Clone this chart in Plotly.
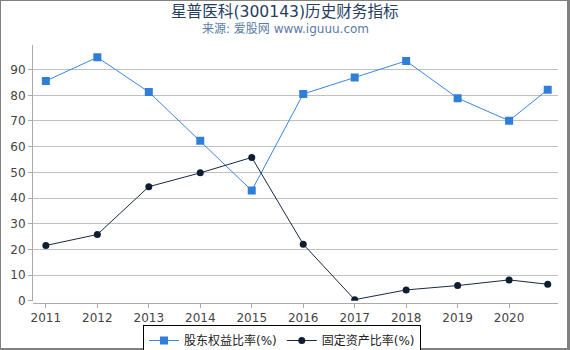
import plotly.graph_objects as go

years = [2011, 2012, 2013, 2014, 2015, 2016, 2017, 2018, 2019, 2020, 2020.75]
tick_vals = [2011, 2012, 2013, 2014, 2015, 2016, 2017, 2018, 2019, 2020]
tick_text = ["2011", "2012", "2013", "2014", "2015", "2016", "2017", "2018", "2019", "2020"]
equity_ratio = [85.6, 94.8, 81.3, 62.3, 42.9, 80.5, 86.9, 93.4, 78.9, 70.1, 82.2]
fixed_asset_ratio = [21.5, 25.8, 44.4, 49.8, 55.8, 22.0, 0.4, 4.2, 5.9, 8.1, 6.4]

FONT = "DejaVu Sans, Noto Sans CJK SC, sans-serif"

fig = go.Figure()
fig.add_trace(go.Scatter(
    x=years, y=equity_ratio, mode="lines+markers", name="股东权益比率(%)",
    line=dict(color="#3a86dc", width=1),
    marker=dict(symbol="square", size=8, color="#2f7fd9"),
))
fig.add_trace(go.Scatter(
    x=years, y=fixed_asset_ratio, mode="lines+markers", name="固定资产比率(%)",
    line=dict(color="#1a2a3f", width=1),
    marker=dict(symbol="circle", size=7, color="#0f1d33"),
))

W, H = 570, 350
L, R, T, B = 33, 12, 45, 47
pw, ph = W - L - R, H - T - B

def px(x):
    return (x - L) / pw

def py(y):
    return (H - B - y) / ph

shapes = []
gray = "#808080"
for x0, x1, y0, y1 in [(0, 1, 0, 350), (567, 570, 0, 350), (0, 570, 0, 1), (0, 570, 348, 350)]:
    shapes.append(dict(type="rect", xref="paper", yref="paper",
                       x0=px(x0), x1=px(x1), y0=py(y1), y1=py(y0),
                       fillcolor=gray, line=dict(width=0), layer="above"))

fig.update_layout(
    width=W, height=H,
    margin=dict(l=L, r=R, t=T, b=B, autoexpand=False),
    paper_bgcolor="white", plot_bgcolor="white",
    font=dict(family=FONT, size=12, color="#444"),
    showlegend=True,
    legend=dict(orientation="h", xref="container", yref="container",
                x=282 / W, xanchor="center", y=1 - 325 / H, yanchor="top",
                bordercolor="#000", borderwidth=1, bgcolor="white",
                font=dict(size=12, color="#222"), itemwidth=30, tracegroupgap=0),
    xaxis=dict(range=[2010.75, 2020.95], tickvals=tick_vals, ticktext=tick_text,
               showgrid=False, showline=True, linecolor="#aaa", linewidth=1,
               ticks="outside", ticklen=4, tickcolor="#aaa",
               anchor="free", position=0, zeroline=False,
               tickfont=dict(size=12, color="#444")),
    yaxis=dict(range=[0, 99.6], domain=[2.3 / ph, 1], tickvals=list(range(0, 100, 10)),
               showgrid=True, gridcolor="#c0c0c0", gridwidth=1,
               showline=True, linecolor="#aaa", linewidth=1,
               ticks="outside", ticklen=4, tickcolor="#aaa", zeroline=False,
               tickfont=dict(size=12, color="#444")),
    shapes=shapes,
    annotations=[
        dict(text="星普医科(300143)历史财务指标", xref="paper", yref="paper",
             x=px(285), y=py(12), xanchor="center", yanchor="middle", showarrow=False,
             font=dict(size=15.6, color="#253e5e", family=FONT)),
        dict(text="来源: 爱股网 www.iguuu.com", xref="paper", yref="paper",
             x=px(285), y=py(29), xanchor="center", yanchor="middle", showarrow=False,
             font=dict(size=12, color="#5b7aa5", family=FONT)),
    ],
)

fig.write_html("out.html")
